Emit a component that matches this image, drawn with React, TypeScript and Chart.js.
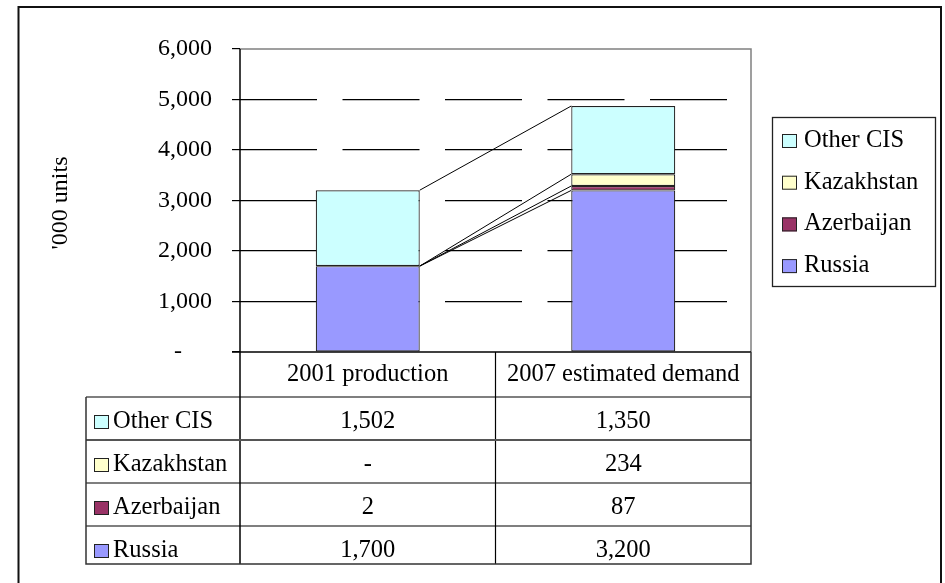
import React, { useEffect, useRef } from "react";
import { Chart, registerables } from "chart.js";

Chart.register(...registerables);

// ---- data ----
const categories = ["2001 production", "2007 estimated demand"];
const seriesNames = ["Russia", "Azerbaijan", "Kazakhstan", "Other CIS"];
const russia = [1700, 3200];
const azerbaijan = [2, 87];
const kazakhstan = [0, 234];
const otherCIS = [1502, 1350];
const seriesColors = ["#9999FF", "#993366", "#FFFFCC", "#CCFFFF"];
const yMin = 0;
const yMax = 6000;
const yStep = 1000;
const yAxisTitle = "'000 units";

const FONT_FAMILY = '"Liberation Serif", "Times New Roman", serif';
const FONT_SIZE = 24;
const FONT = `${FONT_SIZE}px ${FONT_FAMILY}`;
const TABLE_FONT = `24.5px ${FONT_FAMILY}`;

const fmt = (v: number) => (v === 0 ? "-" : v.toLocaleString("en-US"));

const overlayPlugin = {
  id: "overlay",
  afterDatasetsDraw(chart: any) {
    const ctx: CanvasRenderingContext2D = chart.ctx;
    const area = chart.chartArea;
    const xs = chart.scales.x;
    const ys = chart.scales.y;
    ctx.save();

    // series lines between stacks
    ctx.strokeStyle = "#000";
    ctx.lineWidth = 1;
    chart.data.datasets.forEach((_: any, di: number) => {
      const meta = chart.getDatasetMeta(di);
      const b0 = meta.data[0].getProps(["x", "y", "width"], true);
      const b1 = meta.data[1].getProps(["x", "y", "width"], true);
      ctx.beginPath();
      ctx.moveTo(b0.x + b0.width / 2, b0.y);
      ctx.lineTo(b1.x - b1.width / 2, b1.y);
      ctx.stroke();
    });

    // plot area border (top & right), gray
    ctx.strokeStyle = "#808080";
    ctx.lineWidth = 1.5;
    ctx.beginPath();
    ctx.moveTo(area.left, area.top);
    ctx.lineTo(area.right, area.top);
    ctx.lineTo(area.right, area.bottom);
    ctx.stroke();

    // axes
    ctx.strokeStyle = "#000";
    ctx.lineWidth = 1.5;
    const zeroY = ys.getPixelForValue(0);
    ctx.beginPath();
    ctx.moveTo(area.left - 8, zeroY);
    ctx.lineTo(area.right, zeroY);
    ctx.stroke();

    // data table geometry
    const headerTop = zeroY;
    const headerBottom = zeroY + 45;
    const rowH = 43;
    const tableLeft = 86;
    const tableBottom = headerBottom + rowH * 3 + 38;
    const rowTops = [0, 1, 2, 3].map((i) => headerBottom + i * rowH);
    const px0 = xs.getPixelForValue(0);
    const px1 = xs.getPixelForValue(1);
    const colMid = (px0 + px1) / 2;

    // y axis line extended down through table
    ctx.beginPath();
    ctx.moveTo(area.left, area.top);
    ctx.lineTo(area.left, tableBottom);
    ctx.stroke();

    // header column divider
    ctx.lineWidth = 1.2;
    ctx.beginPath();
    ctx.moveTo(colMid, headerTop);
    ctx.lineTo(colMid, tableBottom);
    ctx.stroke();

    // horizontal row lines
    [headerBottom, rowTops[1], rowTops[2], rowTops[3]].forEach((y, i) => {
      ctx.strokeStyle = i === 1 ? "#555" : "#000";
      ctx.lineWidth = i === 1 ? 1.8 : 1.2;
      ctx.beginPath();
      ctx.moveTo(tableLeft, y);
      ctx.lineTo(area.right, y);
      ctx.stroke();
    });

    // outer table border
    ctx.strokeStyle = "#333";
    ctx.lineWidth = 1.5;
    ctx.beginPath();
    ctx.moveTo(tableLeft, headerBottom);
    ctx.lineTo(tableLeft, tableBottom);
    ctx.lineTo(area.right, tableBottom);
    ctx.lineTo(area.right, headerTop);
    ctx.stroke();

    // header text
    ctx.fillStyle = "#000";
    ctx.font = TABLE_FONT;
    ctx.textAlign = "center";
    ctx.textBaseline = "alphabetic";
    categories.forEach((c, i) => {
      const cx = i === 0 ? (area.left + colMid) / 2 : (colMid + area.right) / 2;
      ctx.fillText(c, cx, headerTop + 29);
    });

    // table rows (reverse order: top series first)
    const order = [3, 2, 1, 0];
    order.forEach((di, r) => {
      const ds = chart.data.datasets[di];
      const top = rowTops[r];
      const base = top + 31;
      ctx.fillStyle = seriesColors[di];
      ctx.fillRect(94, base - 13, 15, 14);
      ctx.strokeStyle = "#222";
      ctx.lineWidth = 1;
      ctx.strokeRect(94.5, base - 12.5, 14, 13);
      ctx.fillStyle = "#000";
      ctx.textAlign = "left";
      ctx.fillText(seriesNames[di], 113, base);
      ctx.textAlign = "center";
      ds.data.forEach((v: number, ci: number) => {
        const cx = ci === 0 ? (area.left + colMid) / 2 : (colMid + area.right) / 2;
        ctx.fillText(fmt(v), cx, base);
      });
    });

    // right legend
    const lgL = 772, lgT = 117, lgR = 935, lgB = 286;
    ctx.strokeStyle = "#222";
    ctx.lineWidth = 1.3;
    ctx.strokeRect(lgL + 0.5, lgT + 0.5, lgR - lgL, lgB - lgT);
    order.forEach((di, r) => {
      const base = 147 + r * 41.7;
      ctx.fillStyle = seriesColors[di];
      ctx.fillRect(782, base - 13, 15, 14);
      ctx.strokeStyle = "#222";
      ctx.lineWidth = 1;
      ctx.strokeRect(782.5, base - 12.5, 14, 13);
      ctx.fillStyle = "#000";
      ctx.textAlign = "left";
      ctx.fillText(seriesNames[di], 804, base);
    });

    // y axis title
    ctx.font = FONT;
    ctx.save();
    ctx.translate(61, 203);
    ctx.rotate(-Math.PI / 2);
    ctx.textAlign = "center";
    ctx.textBaseline = "middle";
    ctx.fillText(yAxisTitle, 0, 0);
    ctx.restore();

    // outer frame
    ctx.strokeStyle = "#111";
    ctx.lineWidth = 2;
    ctx.strokeRect(18.5, 7, 922.5, 600);

    ctx.restore();
  },
};

export default function App() {
  const ref = useRef<HTMLCanvasElement | null>(null);

  useEffect(() => {
    if (!ref.current) return;
    const values = [russia, azerbaijan, kazakhstan, otherCIS];
    const chart = new Chart(ref.current, {
      type: "bar",
      data: {
        labels: categories,
        datasets: seriesNames.map((name, i) => ({
          label: name,
          data: values[i],
          backgroundColor: seriesColors[i],
          borderColor: "#222",
          borderWidth: 1.2,
          borderSkipped: false,
          barPercentage: 0.407,
          categoryPercentage: 1,
        })),
      },
      options: {
        responsive: false,
        animation: false,
        devicePixelRatio: 1,
        layout: { padding: { left: 0, top: 49, right: 194, bottom: 231 } },
        plugins: {
          legend: { display: false },
          tooltip: { enabled: false },
          title: { display: false },
        },
        scales: {
          x: { type: "category", stacked: true, display: false },
          y: {
            stacked: true,
            min: yMin,
            max: yMax,
            ticks: {
              stepSize: yStep,
              padding: 20,
              color: "#000",
              font: { family: FONT_FAMILY, size: FONT_SIZE },
              callback: (v: any) => (Number(v) === 0 ? "-     " : Number(v).toLocaleString("en-US")),
            },
            grid: {
              color: (c: any) =>
                c.tick && (c.tick.value === 0 || c.tick.value === yMax) ? "rgba(0,0,0,0)" : "#000",
              lineWidth: 1.2,
              tickColor: "#000",
              tickLength: 8,
              tickWidth: 1.2,
            },
            border: { display: false, dash: [77, 25.5] },
            afterFit: (scale: any) => {
              scale.width = 240;
            },
          },
        },
      },
      plugins: [overlayPlugin],
    });
    return () => chart.destroy();
  }, []);

  return (
    <div style={{ position: "absolute", left: 0, top: 0, width: 945, height: 583, background: "#fff" }}>
      <canvas ref={ref} width={945} height={583} style={{ display: "block" }} />
    </div>
  );
}
